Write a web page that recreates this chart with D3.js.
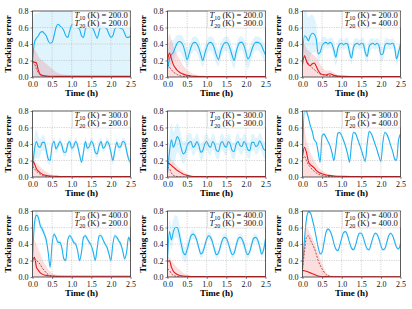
<!DOCTYPE html>
<html>
<head>
<meta charset="utf-8">
<script src="https://cdn.jsdelivr.net/npm/d3@7"></script>
<style>
  body { margin: 0; background: #fff; }
  svg { display: block; }
</style>
</head>
<body>
<div id="chart"></div>
<script>

// panel parameters (row by row)
const panelT10 = [200, 200, 200, 300, 300, 300, 400, 400, 400];
const panelT20 = [200, 300, 400, 200, 300, 400, 200, 300, 400];

const xTicks = [0.0, 0.5, 1.0, 1.5, 2.0, 2.5];
const yTicks = [0.0, 0.2, 0.4, 0.6, 0.8];

// sampling times
const blueTime = [0, 0.05, 0.1, 0.15, 0.2, 0.25, 0.3, 0.35, 0.4, 0.45, 0.5, 0.55, 0.6, 0.65, 0.7, 0.75, 0.8, 0.85, 0.9, 0.95,
  1.0, 1.05, 1.1, 1.15, 1.2, 1.25, 1.3, 1.35, 1.4, 1.45, 1.5, 1.55, 1.6, 1.65, 1.7, 1.75, 1.8, 1.85, 1.9, 1.95,
  2.0, 2.05, 2.1, 2.15, 2.2, 2.25, 2.3, 2.35, 2.4, 2.45, 2.5];
const bandTime = [0, 0.1, 0.2, 0.3, 0.4, 0.5, 0.6, 0.7, 0.8, 0.9, 1.0, 1.1, 1.2, 1.3, 1.4, 1.5, 1.6, 1.7, 1.8, 1.9,
  2.0, 2.1, 2.2, 2.3, 2.4, 2.5];
const redTime = [0, 0.05, 0.1, 0.15, 0.2, 0.25, 0.3, 0.35, 0.4, 0.5, 0.6, 0.7, 0.8, 1.0, 1.5, 2.5];

// blue mean tracking error, one array per panel
const blue1 = [0.19, 0.42, 0.47, 0.5, 0.54, 0.55, 0.53, 0.5, 0.44, 0.41, 0.42, 0.5, 0.6, 0.64, 0.62, 0.6, 0.56, 0.5, 0.48, 0.56,
  0.63, 0.64, 0.62, 0.6, 0.58, 0.5, 0.48, 0.58, 0.62, 0.6, 0.6, 0.58, 0.52, 0.47, 0.55, 0.62, 0.61, 0.6, 0.58, 0.52,
  0.48, 0.5, 0.58, 0.6, 0.6, 0.59, 0.58, 0.53, 0.48, 0.48, 0.5];
const blue2 = [0.1, 0.22, 0.27, 0.3, 0.36, 0.41, 0.43, 0.42, 0.38, 0.3, 0.21, 0.28, 0.36, 0.41, 0.42, 0.4, 0.35, 0.27, 0.2, 0.28,
  0.36, 0.41, 0.42, 0.4, 0.34, 0.26, 0.21, 0.3, 0.37, 0.41, 0.42, 0.4, 0.34, 0.26, 0.2, 0.3, 0.38, 0.42, 0.42, 0.38,
  0.3, 0.22, 0.25, 0.33, 0.39, 0.42, 0.42, 0.41, 0.38, 0.32, 0.27];
const blue3 = [0.25, 0.5, 0.48, 0.44, 0.5, 0.53, 0.52, 0.46, 0.28, 0.3, 0.38, 0.41, 0.42, 0.4, 0.42, 0.4, 0.33, 0.24, 0.35, 0.4,
  0.41, 0.39, 0.41, 0.4, 0.3, 0.23, 0.36, 0.4, 0.41, 0.39, 0.41, 0.4, 0.3, 0.25, 0.37, 0.4, 0.41, 0.39, 0.41, 0.38,
  0.27, 0.28, 0.38, 0.41, 0.4, 0.4, 0.41, 0.36, 0.22, 0.3, 0.4];
const blue4 = [0.1, 0.33, 0.43, 0.37, 0.36, 0.42, 0.42, 0.33, 0.22, 0.2, 0.38, 0.43, 0.34, 0.38, 0.43, 0.38, 0.3, 0.3, 0.4, 0.43,
  0.35, 0.37, 0.43, 0.38, 0.27, 0.18, 0.3, 0.43, 0.35, 0.37, 0.43, 0.4, 0.3, 0.28, 0.38, 0.43, 0.35, 0.37, 0.43, 0.4,
  0.3, 0.2, 0.32, 0.42, 0.36, 0.37, 0.43, 0.42, 0.32, 0.22, 0.18];
const blue5 = [0.05, 0.3, 0.45, 0.36, 0.42, 0.49, 0.45, 0.35, 0.28, 0.3, 0.38, 0.42, 0.43, 0.36, 0.38, 0.43, 0.38, 0.3, 0.32, 0.4,
  0.43, 0.38, 0.36, 0.43, 0.4, 0.32, 0.31, 0.4, 0.43, 0.38, 0.36, 0.43, 0.4, 0.32, 0.31, 0.4, 0.43, 0.38, 0.37, 0.43,
  0.4, 0.33, 0.32, 0.42, 0.42, 0.37, 0.38, 0.44, 0.4, 0.34, 0.32];
const blue6 = [0.22, 0.82, 0.8, 0.72, 0.62, 0.55, 0.45, 0.42, 0.3, 0.18, 0.5, 0.52, 0.48, 0.43, 0.38, 0.3, 0.2, 0.35, 0.53, 0.54,
  0.5, 0.44, 0.37, 0.28, 0.18, 0.4, 0.54, 0.53, 0.47, 0.4, 0.33, 0.25, 0.19, 0.4, 0.55, 0.53, 0.47, 0.4, 0.33, 0.25,
  0.19, 0.42, 0.54, 0.52, 0.46, 0.38, 0.31, 0.22, 0.2, 0.45, 0.52];
const blue7 = [0.2, 0.65, 0.75, 0.72, 0.62, 0.58, 0.52, 0.45, 0.3, 0.12, 0.4, 0.52, 0.48, 0.42, 0.42, 0.35, 0.22, 0.2, 0.45, 0.5,
  0.47, 0.42, 0.4, 0.32, 0.2, 0.3, 0.48, 0.5, 0.46, 0.42, 0.38, 0.3, 0.2, 0.35, 0.5, 0.5, 0.45, 0.4, 0.36, 0.28,
  0.2, 0.4, 0.5, 0.48, 0.44, 0.4, 0.32, 0.22, 0.3, 0.48, 0.42];
const blue8 = [0.2, 0.55, 0.45, 0.55, 0.6, 0.6, 0.52, 0.4, 0.3, 0.27, 0.33, 0.42, 0.5, 0.52, 0.5, 0.44, 0.35, 0.28, 0.3, 0.38,
  0.46, 0.5, 0.48, 0.42, 0.33, 0.27, 0.29, 0.37, 0.45, 0.48, 0.47, 0.41, 0.33, 0.27, 0.29, 0.38, 0.46, 0.48, 0.46, 0.4,
  0.31, 0.27, 0.31, 0.4, 0.47, 0.48, 0.45, 0.37, 0.28, 0.33, 0.46];
const blue9 = [0.1, 0.45, 0.7, 0.79, 0.78, 0.7, 0.6, 0.48, 0.36, 0.28, 0.3, 0.42, 0.54, 0.58, 0.56, 0.5, 0.41, 0.34, 0.32, 0.38,
  0.47, 0.54, 0.55, 0.5, 0.42, 0.35, 0.33, 0.38, 0.47, 0.53, 0.53, 0.48, 0.4, 0.34, 0.33, 0.4, 0.48, 0.53, 0.52, 0.46,
  0.38, 0.33, 0.34, 0.42, 0.5, 0.53, 0.5, 0.43, 0.36, 0.34, 0.4];

// blue band: distance below / above the mean, at bandTime
const blueDn1 = [0.7, 0.7, 0.7, 0.7, 0.7, 0.7, 0.7, 0.7, 0.7, 0.7, 0.7, 0.7, 0.7, 0.7, 0.7, 0.7, 0.7, 0.7, 0.7, 0.7, 0.7, 0.7, 0.7, 0.7, 0.7, 0.7];
const blueUp1 = [0.4, 0.3, 0.25, 0.35, 0.45, 0.45, 0.45, 0.45, 0.45, 0.45, 0.45, 0.45, 0.45, 0.45, 0.45, 0.45, 0.45, 0.45, 0.45, 0.45, 0.45, 0.45, 0.45, 0.45, 0.45, 0.45];
const blueDn2 = [0.05, 0.12, 0.1, 0.12, 0.15, 0.1, 0.1, 0.1, 0.12, 0.08, 0.1, 0.1, 0.12, 0.08, 0.1, 0.1, 0.12, 0.1, 0.1, 0.1, 0.14, 0.1, 0.1, 0.1, 0.12, 0.1];
const blueUp2 = [0.2, 0.18, 0.12, 0.08, 0.1, 0.15, 0.08, 0.07, 0.1, 0.12, 0.08, 0.07, 0.1, 0.12, 0.08, 0.07, 0.1, 0.12, 0.08, 0.07, 0.1, 0.12, 0.08, 0.07, 0.08, 0.1];
const blueDn3 = [0.15, 0.28, 0.25, 0.22, 0.1, 0.08, 0.06, 0.06, 0.1, 0.1, 0.06, 0.06, 0.08, 0.08, 0.06, 0.06, 0.08, 0.08, 0.06, 0.06, 0.08, 0.08, 0.06, 0.06, 0.08, 0.08];
const blueUp3 = [0.35, 0.32, 0.25, 0.2, 0.15, 0.1, 0.06, 0.06, 0.1, 0.08, 0.06, 0.06, 0.1, 0.08, 0.06, 0.06, 0.1, 0.08, 0.06, 0.06, 0.1, 0.08, 0.06, 0.06, 0.1, 0.06];
const blueDn4 = [0.1, 0.2, 0.1, 0.1, 0.06, 0.05, 0.05, 0.05, 0.05, 0.05, 0.05, 0.05, 0.05, 0.05, 0.05, 0.05, 0.05, 0.05, 0.05, 0.05, 0.05, 0.05, 0.05, 0.05, 0.05, 0.05];
const blueUp4 = [0.15, 0.15, 0.1, 0.08, 0.06, 0.05, 0.05, 0.05, 0.05, 0.05, 0.05, 0.05, 0.05, 0.05, 0.05, 0.05, 0.05, 0.05, 0.05, 0.05, 0.05, 0.05, 0.05, 0.05, 0.05, 0.05];
const blueDn5 = [0.05, 0.25, 0.2, 0.18, 0.12, 0.1, 0.1, 0.1, 0.1, 0.1, 0.1, 0.1, 0.1, 0.1, 0.1, 0.1, 0.1, 0.1, 0.1, 0.1, 0.1, 0.1, 0.1, 0.1, 0.1, 0.1];
const blueUp5 = [0.2, 0.2, 0.18, 0.15, 0.15, 0.12, 0.1, 0.1, 0.1, 0.1, 0.1, 0.1, 0.1, 0.1, 0.1, 0.1, 0.1, 0.1, 0.1, 0.1, 0.1, 0.1, 0.1, 0.1, 0.1, 0.1];
const blueDn6 = [0.05, 0.04, 0.03, 0.02, 0.02, 0.02, 0.02, 0.02, 0.02, 0.02, 0.02, 0.02, 0.02, 0.02, 0.02, 0.02, 0.02, 0.02, 0.02, 0.02, 0.02, 0.02, 0.02, 0.02, 0.02, 0.02];
const blueUp6 = [0.05, 0.04, 0.03, 0.02, 0.02, 0.02, 0.02, 0.02, 0.02, 0.02, 0.02, 0.02, 0.02, 0.02, 0.02, 0.02, 0.02, 0.02, 0.02, 0.02, 0.02, 0.02, 0.02, 0.02, 0.02, 0.02];
const blueDn7 = [0.1, 0.08, 0.05, 0.05, 0.04, 0.03, 0.03, 0.03, 0.03, 0.03, 0.03, 0.03, 0.03, 0.03, 0.03, 0.03, 0.03, 0.03, 0.03, 0.03, 0.03, 0.03, 0.03, 0.03, 0.03, 0.03];
const blueUp7 = [0.1, 0.08, 0.05, 0.05, 0.04, 0.03, 0.03, 0.03, 0.03, 0.03, 0.03, 0.03, 0.03, 0.03, 0.03, 0.03, 0.03, 0.03, 0.03, 0.03, 0.03, 0.03, 0.03, 0.03, 0.03, 0.03];
const blueDn8 = [0.1, 0.12, 0.12, 0.12, 0.1, 0.08, 0.06, 0.05, 0.05, 0.05, 0.05, 0.05, 0.05, 0.05, 0.05, 0.05, 0.05, 0.05, 0.05, 0.05, 0.05, 0.05, 0.05, 0.05, 0.05, 0.05];
const blueUp8 = [0.15, 0.15, 0.15, 0.12, 0.1, 0.08, 0.06, 0.05, 0.05, 0.05, 0.05, 0.05, 0.05, 0.05, 0.05, 0.05, 0.05, 0.05, 0.05, 0.05, 0.05, 0.05, 0.05, 0.05, 0.05, 0.05];
const blueDn9 = [0.03, 0.03, 0.02, 0.02, 0.02, 0.02, 0.02, 0.02, 0.02, 0.02, 0.02, 0.02, 0.02, 0.02, 0.02, 0.02, 0.02, 0.02, 0.02, 0.02, 0.02, 0.02, 0.02, 0.02, 0.02, 0.02];
const blueUp9 = [0.03, 0.03, 0.02, 0.02, 0.02, 0.02, 0.02, 0.02, 0.02, 0.02, 0.02, 0.02, 0.02, 0.02, 0.02, 0.02, 0.02, 0.02, 0.02, 0.02, 0.02, 0.02, 0.02, 0.02, 0.02, 0.02];

// red: solid mean, dashed median, upper edge of shaded band (at redTime)
const red1 = [0.19, 0.18, 0.17, 0.08, 0.03, 0.02, 0.015, 0.012, 0.01, 0.01, 0.008, 0.008, 0.008, 0.008, 0.008, 0.008];
const redDash1 = [0.18, 0.16, 0.1, 0.05, 0.025, 0.015, 0.01, 0.008, 0.006, 0.005, 0.005, 0.005, 0.005, 0.005, 0.005, 0.005];
const redHi1 = [0.3, 0.33, 0.3, 0.25, 0.22, 0.2, 0.18, 0.16, 0.14, 0.1, 0.06, 0.04, 0.03, 0.02, 0.015, 0.012];
const red2 = [0.2, 0.29, 0.22, 0.15, 0.11, 0.08, 0.06, 0.045, 0.035, 0.02, 0.012, 0.008, 0.006, 0.005, 0.005, 0.005];
const redDash2 = [0.15, 0.12, 0.09, 0.06, 0.045, 0.03, 0.02, 0.012, 0.008, 0.004, 0.002, 0.001, 0, 0, 0, 0];
const redHi2 = [0.4, 0.52, 0.45, 0.38, 0.32, 0.27, 0.22, 0.18, 0.14, 0.09, 0.05, 0.03, 0.02, 0.01, 0.005, 0.005];
const red3 = [0.15, 0.26, 0.19, 0.15, 0.14, 0.16, 0.17, 0.13, 0.08, 0.03, 0.025, 0.04, 0.02, 0.008, 0.005, 0.005];
const redDash3 = [0.2, 0.24, 0.2, 0.16, 0.13, 0.11, 0.09, 0.07, 0.05, 0.03, 0.02, 0.015, 0.01, 0.003, 0, 0];
const redHi3 = [0.35, 0.4, 0.35, 0.32, 0.3, 0.28, 0.26, 0.24, 0.2, 0.12, 0.08, 0.08, 0.05, 0.02, 0.005, 0.005];
const red4 = [0.2, 0.16, 0.1, 0.07, 0.05, 0.035, 0.025, 0.02, 0.015, 0.01, 0.008, 0.006, 0.005, 0.005, 0.005, 0.005];
const redDash4 = [0.13, 0.1, 0.07, 0.05, 0.03, 0.02, 0.012, 0.008, 0.005, 0.003, 0.002, 0, 0, 0, 0, 0];
const redHi4 = [0.21, 0.2, 0.17, 0.15, 0.12, 0.1, 0.08, 0.065, 0.05, 0.03, 0.015, 0.01, 0.008, 0.005, 0.005, 0.005];
const red5 = [0.17, 0.16, 0.14, 0.12, 0.1, 0.08, 0.065, 0.05, 0.035, 0.02, 0.01, 0.006, 0.005, 0.005, 0.005, 0.005];
const redDash5 = [0.12, 0.1, 0.05, 0.02, 0.01, 0.005, 0.003, 0, 0, 0, 0, 0, 0, 0, 0, 0];
const redHi5 = [0.26, 0.24, 0.21, 0.18, 0.16, 0.13, 0.11, 0.09, 0.07, 0.04, 0.02, 0.01, 0.008, 0.005, 0.005, 0.005];
const red6 = [0.25, 0.36, 0.3, 0.19, 0.15, 0.13, 0.11, 0.08, 0.06, 0.04, 0.025, 0.018, 0.012, 0.008, 0.005, 0.005];
const redDash6 = [0.22, 0.25, 0.2, 0.15, 0.12, 0.09, 0.07, 0.05, 0.035, 0.02, 0.01, 0.006, 0.003, 0, 0, 0];
const redHi6 = [0.7, 0.6, 0.45, 0.38, 0.3, 0.25, 0.2, 0.16, 0.12, 0.08, 0.05, 0.03, 0.02, 0.01, 0.005, 0.005];
const red7 = [0.2, 0.24, 0.12, 0.08, 0.05, 0.035, 0.025, 0.02, 0.016, 0.012, 0.01, 0.01, 0.01, 0.01, 0.01, 0.01];
const redDash7 = [0.18, 0.22, 0.2, 0.18, 0.15, 0.11, 0.08, 0.05, 0.03, 0.012, 0.006, 0.003, 0.002, 0.002, 0.002, 0.002];
const redHi7 = [0.55, 0.45, 0.4, 0.34, 0.28, 0.22, 0.17, 0.13, 0.09, 0.05, 0.03, 0.02, 0.015, 0.01, 0.01, 0.01];
const red8 = [0.18, 0.2, 0.12, 0.07, 0.045, 0.03, 0.02, 0.015, 0.012, 0.008, 0.006, 0.005, 0.005, 0.005, 0.005, 0.005];
const redDash8 = [0.1, 0.08, 0.04, 0.02, 0.01, 0.005, 0.003, 0.002, 0, 0, 0, 0, 0, 0, 0, 0];
const redHi8 = [0.25, 0.24, 0.2, 0.17, 0.14, 0.11, 0.09, 0.07, 0.05, 0.03, 0.015, 0.01, 0.005, 0.005, 0.005, 0.005];
const red9 = [0.08, 0.075, 0.07, 0.06, 0.05, 0.04, 0.03, 0.02, 0.012, 0.006, 0.004, 0.003, 0.003, 0.003, 0.003, 0.003];
const redDash9 = [0.1, 0.3, 0.48, 0.5, 0.45, 0.4, 0.35, 0.28, 0.2, 0.1, 0.03, 0.01, 0.005, 0.002, 0, 0];
const redHi9 = [0.2, 0.45, 0.6, 0.58, 0.52, 0.48, 0.42, 0.36, 0.3, 0.16, 0.06, 0.02, 0.01, 0.005, 0, 0];

const blueSeries = [blue1, blue2, blue3, blue4, blue5, blue6, blue7, blue8, blue9];
const blueDnSeries = [blueDn1, blueDn2, blueDn3, blueDn4, blueDn5, blueDn6, blueDn7, blueDn8, blueDn9];
const blueUpSeries = [blueUp1, blueUp2, blueUp3, blueUp4, blueUp5, blueUp6, blueUp7, blueUp8, blueUp9];
const redSeries = [red1, red2, red3, red4, red5, red6, red7, red8, red9];
const redDashSeries = [redDash1, redDash2, redDash3, redDash4, redDash5, redDash6, redDash7, redDash8, redDash9];
const redHiSeries = [redHi1, redHi2, redHi3, redHi4, redHi5, redHi6, redHi7, redHi8, redHi9];

const width = 412, height = 309;
const colX = [32.5, 167.5, 302.5], rowY = [11, 111, 211];
const pw = 98, ph = 66;
const serif = "'Liberation Serif', 'Times New Roman', serif";
const blueColor = "#1cb0f0", redColor = "#e8161c", darkRed = "#a3282a";

const svg = d3.select("#chart").append("svg")
    .attr("width", width)
    .attr("height", height);

const x = d3.scaleLinear().domain([0, 2.5]).range([0, pw]);
const y = d3.scaleLinear().domain([0, 0.8]).range([ph, 0]);

const line = d3.line()
    .x(d => x(d[0]))
    .y(d => y(d[1]))
    .curve(d3.curveMonotoneX);

const area = d3.area()
    .x(d => x(d[0]))
    .y0(d => y(d[1]))
    .y1(d => y(d[2]))
    .curve(d3.curveMonotoneX);

panelT10.forEach((t10, i) => {
    const col = i % 3, row = Math.floor(i / 3);
    const g = svg.append("g").attr("transform", `translate(${colX[col]},${rowY[row]})`);

    svg.append("clipPath").attr("id", "clip" + i)
      .append("rect").attr("width", pw).attr("height", ph);

    const plot = g.append("g").attr("clip-path", `url(#clip${i})`);

    // blue band from mean +- spread read at bandTime
    const bl = blueSeries[i];
    const dnAt = d3.scaleLinear().domain(bandTime).range(blueDnSeries[i]);
    const upAt = d3.scaleLinear().domain(bandTime).range(blueUpSeries[i]);
    const blueBand = blueTime.map((t, k) => [t, bl[k] - dnAt(t), bl[k] + upAt(t)]);
    plot.append("path")
        .attr("d", area(blueBand))
        .attr("fill", blueColor)
        .attr("fill-opacity", 0.14);

    const redBand = redTime.map((t, k) => [t, 0, redHiSeries[i][k]]);
    plot.append("path")
        .attr("d", area(redBand))
        .attr("fill", "#f03030")
        .attr("fill-opacity", 0.16);

    // grid
    g.append("g").selectAll("line").data(xTicks.slice(1, -1)).join("line")
        .attr("x1", d => x(d)).attr("x2", d => x(d))
        .attr("y1", 0).attr("y2", ph)
        .attr("stroke", "#b8b8b8").attr("stroke-width", 0.6)
        .attr("stroke-dasharray", "1.2,1.2");
    g.append("g").selectAll("line").data(yTicks.slice(1, -1)).join("line")
        .attr("x1", 0).attr("x2", pw)
        .attr("y1", d => y(d)).attr("y2", d => y(d))
        .attr("stroke", "#b8b8b8").attr("stroke-width", 0.6)
        .attr("stroke-dasharray", "1.2,1.2");

    plot.append("path")
        .attr("d", line(blueTime.map((t, k) => [t, bl[k]])))
        .attr("fill", "none")
        .attr("stroke", blueColor)
        .attr("stroke-width", 1.1);

    plot.append("path")
        .attr("d", line(redTime.map((t, k) => [t, redDashSeries[i][k]])))
        .attr("fill", "none")
        .attr("stroke", darkRed)
        .attr("stroke-width", 0.8)
        .attr("stroke-dasharray", "2,1.3");

    plot.append("path")
        .attr("d", line(redTime.map((t, k) => [t, redSeries[i][k]])))
        .attr("fill", "none")
        .attr("stroke", redColor)
        .attr("stroke-width", 1.1);

    // axes
    const xa = g.append("g").attr("transform", `translate(0,${ph})`)
        .call(d3.axisBottom(x).tickValues(xTicks).tickFormat(d3.format(".1f")).tickSize(2).tickPadding(2));
    const ya = g.append("g")
        .call(d3.axisLeft(y).tickValues(yTicks).tickFormat(d3.format(".1f")).tickSize(2).tickPadding(2));
    [xa, ya].forEach(a => {
        a.select(".domain").remove();
        a.selectAll("text").style("font-family", serif).style("font-size", "8px").attr("fill", "#111");
        a.selectAll("line").attr("stroke", "#333").attr("stroke-width", 0.6);
    });

    g.append("rect")
        .attr("width", pw).attr("height", ph)
        .attr("fill", "none")
        .attr("stroke", "#333")
        .attr("stroke-width", 0.8);

    g.append("text")
        .attr("x", pw / 2).attr("y", ph + 18.5)
        .attr("text-anchor", "middle")
        .style("font-family", serif).style("font-size", "9px").style("font-weight", "bold")
        .text("Time (h)");

    g.append("text")
        .attr("transform", `translate(${-22},${ph / 2}) rotate(-90)`)
        .attr("text-anchor", "middle")
        .style("font-family", serif).style("font-size", "9px").style("font-weight", "bold")
        .text("Tracking error");

    // legend box
    const lg = g.append("g").attr("transform", `translate(${pw - 58},0)`);
    lg.append("rect")
        .attr("x", 0).attr("y", 0.5).attr("width", 57.5).attr("height", 16.5)
        .attr("fill", "#fff").attr("fill-opacity", 0.8)
        .attr("stroke", "#ccc").attr("stroke-width", 0.5).attr("rx", 1);
    [["10", t10], ["20", panelT20[i]]].forEach((r, k) => {
        const tx = lg.append("text")
            .attr("x", 2).attr("y", 7 + k * 8)
            .style("font-family", serif).style("font-size", "8.6px").attr("fill", "#111");
        tx.append("tspan").style("font-style", "italic").text("T");
        tx.append("tspan").attr("dy", 1.5).style("font-size", "6px").text(r[0]);
        tx.append("tspan").attr("dy", -1.5).text(" (K) = " + d3.format(".1f")(r[1]));
    });
});

</script>
</body>
</html>
